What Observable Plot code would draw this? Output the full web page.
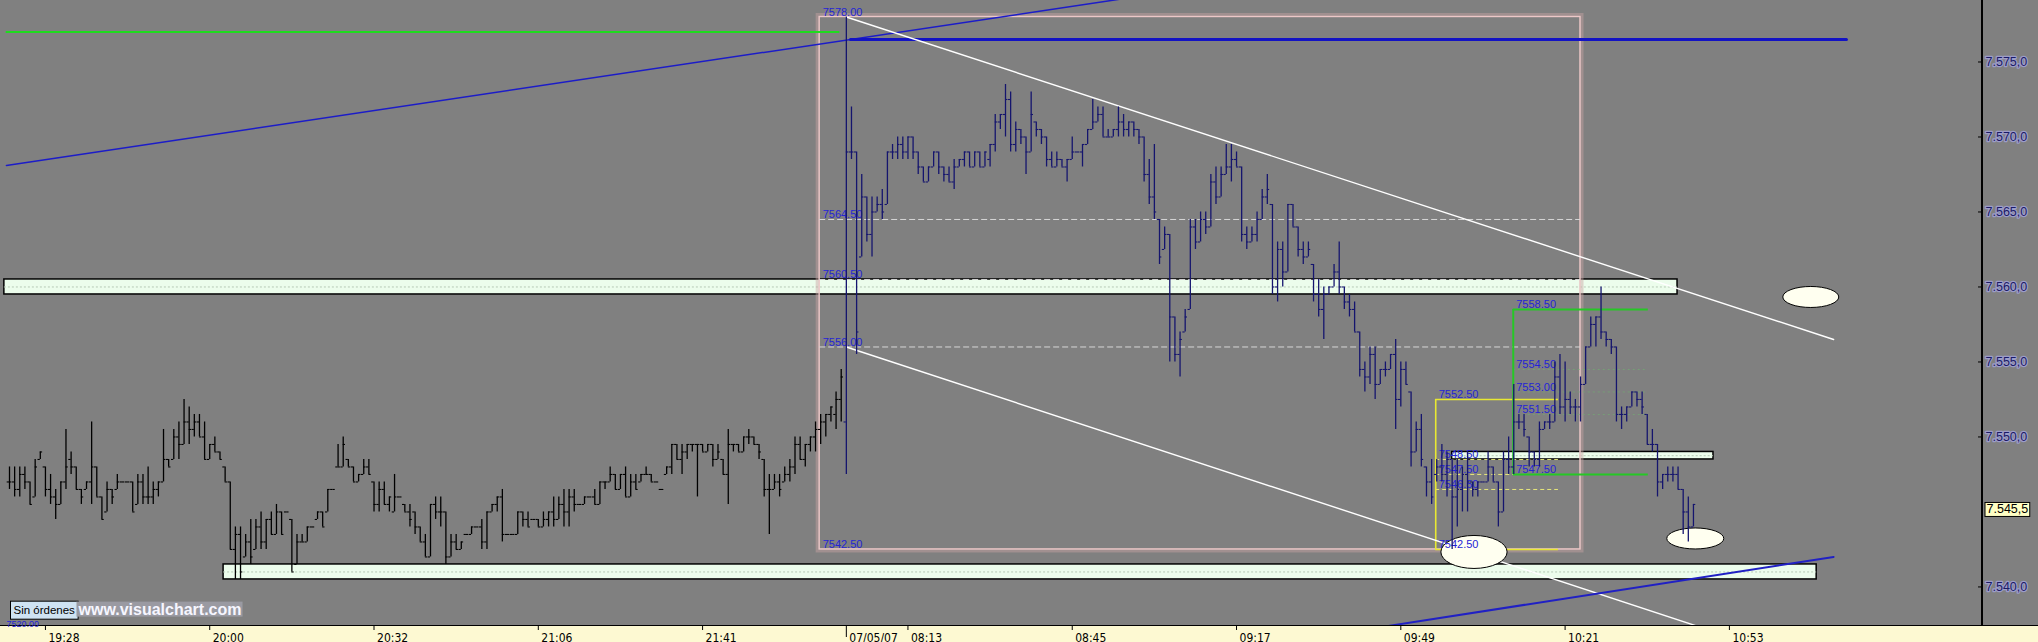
<!DOCTYPE html>
<html>
<head>
<meta charset="utf-8">
<script src="https://cdn.jsdelivr.net/npm/d3@7"></script>
<script src="https://cdn.jsdelivr.net/npm/@observablehq/plot@0.6"></script>
<style>
  html, body { margin: 0; padding: 0; background: #808080; }
  #chart svg { display: block; }
</style>
</head>
<body>
<div id="chart"></div>
<script>
// ---------- DATA (1-minute OHLC bars, bar index 0 = first evening bar) ----------
const highs = [
  7548,7548,7548,7548,7547,7548.5,7549,7548,7547.5,7546.5,
  7547,7550.5,7549,7548,7546.5,7547,7551,7548,7546,7547,
  7546.5,7547.5,7547,7547,7547,7547.5,7547.5,7548,7547,7547,
  7550.5,7548.5,7550.5,7551,7552.5,7552,7551.5,7551.5,7551,7549.5,
  7550,7549,7548,7547,7544,7544,7543.5,7544.5,7544.5,7545,
  7544.5,7545,7545.5,7545,7545,7544.5,7543.5,7543.5,7544,7544,
  7545,7545,7546.5,7546.5,7549.5,7550,7548.5,7548,7547.5,7548.5,
  7548.5,7547,7547,7547,7546,7547.5,7546,7545.5,7545.5,7545,
  7544,7543.5,7545.5,7546,7546,7545,7543.5,7543.5,7543,7543.5,
  7544,7544,7544.5,7545,7545.5,7546,7546.5,7543.5,7543.5,7545,
  7545,7545,7544.5,7544.5,7545,7545,7546,7546,7546.5,7546.5,
  7546.5,7545.5,7546,7546,7546.5,7547,7547,7548,7547.5,7547.5,
  7548,7547.5,7547.5,7547.5,7548,7547.5,7547,7546.5,7548,7549.5,
  7549.5,7549.5,7549.5,7549.5,7549.5,7549.5,7549.5,7549.5,7549.5,7548.5,
  7550.5,7549.5,7549.5,7550,7550.5,7550,7549.5,7548.5,7547.5,7547.5,
  7547.5,7548,7548.5,7550,7550,7549.5,7550,7551,7551.5,7551.5,
  7552,7553,7554.5,
  7578,7572,7569,7567.5,7566,7566,7566,
  7566.5,7569,7569.5,7570,7570,7570,7570,7569,7568,7568,
  7569,7569,7568,7568,7568.5,7568.5,7569,7569,7569,7569,
  7569,7569.5,7571.5,7571.5,7573.5,7573,7571,7570.5,7570,7573,
  7571,7570.5,7570,7569,7569,7568.5,7568.5,7570,7569,7569.5,
  7570.5,7572.5,7572,7572,7570.5,7570.5,7572,7571.5,7571,7571,
  7570.5,7570,7568.5,7569.5,7564.5,7564,7563.5,7558,7557,7558.5,
  7564.5,7564.5,7565,7565,7567.5,7568,7568,7569.5,7569.5,7569,
  7568,7564,7564,7565,7566.5,7567.5,7565.5,7563,7563,7565.5,
  7565.5,7564,7563,7563,7561.5,7560.5,7560,7560,7561.5,7563,
  7560,7559.5,7559,7557,7555,7556,7556,7554.5,7555,7555.5,
  7556.5,7555,7555,7553,7551,7551.5,7548,7548.5,7548.5,7549.5,
  7549,7548.5,7548.5,7548,7549,7547,7547,7547,7549,7548,
  7547,7549,7550,7553.5,7551.5,7551.5,7550,7549,7551,7551,
  7551.5,7555,7555.5,7555,7553,7552.5,7554,7556,7558,7558,
  7560,7557,7556.5,7556,7552,7552,7553,7553,7553,7551.5,
  7550.5,7549.5,7547.5,7548,7548,7548,7546.5,7546,7545.5
];
const lows = [
  7546.5,7546,7546,7546.5,7545.5,7546,7548.5,7546,7545.5,7544.5,
  7545.5,7546.5,7547.5,7546.5,7545.5,7546.5,7545.5,7546,7544.5,7545,
  7545.5,7546.5,7547,7547,7545,7545.5,7545.5,7545.5,7545.5,7546,
  7547,7548,7548.5,7548.5,7549.5,7549.5,7550,7550,7548.5,7548.5,
  7549,7548.5,7547,7542.5,7540.5,7540.5,7542,7541.5,7542.5,7542.5,
  7542.5,7543.5,7543.5,7543.5,7545,7541,7541.5,7543,7543,7544,
  7544.5,7544,7545,7546.5,7548,7548,7548,7547,7547,7547.5,
  7547.5,7545,7545,7545.5,7545,7545,7546,7545,7544,7543.5,
  7543,7542,7542,7544.5,7544,7541.5,7542,7542.5,7542.5,7543.5,
  7543.5,7544,7542.5,7542.5,7545,7545,7543,7543.5,7543.5,7543.5,
  7544,7544,7544.5,7544,7544,7544,7544,7544.5,7544,7544,
  7545,7545.5,7545.5,7546,7545.5,7545.5,7546.5,7547,7546.5,7546.5,
  7546,7546,7546.5,7547,7547.5,7547,7547,7546.5,7547.5,7547.5,
  7548.5,7547.5,7548.5,7549,7546,7549,7549,7548,7548.5,7547.5,
  7545.5,7549,7549,7549,7549.5,7549.5,7548.5,7546,7543.5,7546.5,
  7546,7547,7547,7547.5,7548.5,7548,7549,7549,7549.5,7550,
  7551,7550.5,7551,
  7547.5,7568.5,7555.5,7562,7563,7562,7565,
  7564.5,7565.5,7568.5,7568.5,7568.5,7568.5,7568.5,7567.5,7567,7567,
  7568,7567.5,7567,7567,7566.5,7568,7568,7568,7568,7568,
  7568,7568,7569,7570.5,7570,7569,7569,7569.5,7567.5,7569,
  7570,7569.5,7568,7568,7568,7568,7567,7568.5,7569,7568,
  7569.5,7570.5,7571,7570,7570,7570,7570,7570,7570,7570,
  7569.5,7567,7565.5,7564.5,7561.5,7562.5,7555,7555,7554,7557,
  7558.5,7562.5,7563,7563.5,7564,7565.5,7566,7567.5,7567,7568,
  7563,7562.5,7563,7563,7564.5,7565.5,7559.5,7559,7560,7561,
  7564,7562,7561.5,7562,7559,7558,7556.5,7559.5,7560,7559.5,
  7558.5,7558,7557,7554,7553,7553.5,7552.5,7553.5,7554,7554.5,
  7550.5,7552,7553.5,7548,7549,7548,7546,7545.5,7547,7547,
  7546,7542.5,7544,7545,7545,7546,7546,7547,7547,7547,
  7544,7545,7547.5,7547.5,7550.5,7550,7548,7548,7548,7550.5,
  7550.5,7551,7551.5,7551,7551.5,7551,7551,7553.5,7556,7556,
  7556.5,7556,7555.5,7551,7550.5,7551,7552,7552,7551.5,7549.5,
  7549,7546,7546.5,7547,7547,7546.5,7543.5,7543,7544
];
const opens = [
  7547,7547,7546.5,7547.5,7547,7546,7548.5,7548,7546.5,7546,
  7545.5,7547,7548.5,7548,7546.5,7546.5,7547,7548,7546,7545,
  7546.5,7546.5,7547,7547,7547,7545.5,7547,7546,7546,7546.5,
  7547,7548.5,7548.5,7550,7549.5,7551,7550.5,7551,7550,7548.5,
  7549.5,7549,7548,7547,7542.5,7543.5,7542,7543,7542.5,7544,
  7543,7544.5,7543.5,7545,7545,7544.5,7541.5,7543,7543,7544,
  7544.5,7545,7545,7546.5,7548,7548,7548.5,7548,7547,7547.5,
  7548,7547,7545.5,7546.5,7545.5,7545,7546,7545.5,7545,7545,
  7544,7543,7542,7545.5,7545,7545,7542,7543,7542.5,7543.5,
  7543.5,7544,7544,7543,7545,7545.5,7546,7543.5,7543.5,7543.5,
  7545,7544.5,7544.5,7544.5,7544,7544.5,7545,7544.5,7545.5,7545,
  7546,7545.5,7545.5,7546,7546,7545.5,7547,7547,7547.5,7546.5,
  7547.5,7546,7547,7547,7547.5,7547.5,7547,7546.5,7547.5,7548,
  7549.5,7548.5,7549,7549.5,7549.5,7549.5,7549,7549.5,7548.5,7548.5,
  7547.5,7549.5,7549.5,7549,7550,7550,7549.5,7548.5,7546.5,7546.5,
  7547,7547,7547.5,7548,7549.5,7548.5,7549.5,7550,7550.5,7551,
  7551.5,7551.5,7552.5,
  7551,7569,7569,7562,7566,7563.5,7565,
  7565.5,7565.5,7569,7569,7569.5,7569,7570,7569,7568,7567,
  7568,7569,7568,7567.5,7567,7568,7568.5,7569,7568,7569,
  7568,7568.5,7569.5,7571,7571.5,7572.5,7569.5,7570.5,7570,7569,
  7571,7570.5,7570,7568.5,7568,7568.5,7568,7568.5,7569,7569,
  7569.5,7570.5,7571,7571.5,7570,7570,7570.5,7571,7570.5,7571,
  7570.5,7570,7567.5,7566,7564.5,7562.5,7563.5,7558,7555.5,7557,
  7558.5,7564,7563,7564.5,7564,7567,7566,7567.5,7568,7568.5,
  7568,7563.5,7563,7563.5,7564.5,7566,7565.5,7560,7562.5,7561,
  7565.5,7564,7562.5,7562,7561.5,7559.5,7558.5,7559.5,7560,7561,
  7560,7559,7558.5,7557,7554.5,7554,7555.5,7553.5,7554.5,7554.5,
  7555.5,7552.5,7554.5,7553,7549,7550.5,7548,7547,7547.5,7548,
  7547.5,7548.5,7546,7546.5,7547.5,7547,7546.5,7547,7547,7548,
  7547,7545,7548.5,7548,7551,7551,7550,7549,7548.5,7550.5,
  7551,7551,7554,7552,7552.5,7552,7552,7553.5,7556,7557.5,
  7558,7557,7556.5,7556,7551.5,7551.5,7552,7553,7552.5,7551.5,
  7549.5,7549.5,7547,7547.5,7547.5,7547.5,7546.5,7545,7544
];
const closes = [
  7547,7546.5,7547.5,7547,7545.5,7548,7549,7546.5,7546,7545.5,
  7547,7548,7548,7546.5,7546,7547,7548,7546,7544.5,7546.5,
  7546,7547,7547,7547,7545,7547,7546,7546,7546.5,7547,
  7548.5,7548,7550,7549.5,7551,7550.5,7551,7550,7548.5,7549.5,
  7549,7548.5,7547,7542.5,7543.5,7541,7543,7542,7544,7543,
  7544.5,7543.5,7545,7543.5,7545,7541,7543,7543,7544,7544,
  7545,7544,7546.5,7546.5,7548,7549.5,7548,7547,7547.5,7548,
  7547.5,7545.5,7546.5,7545.5,7546,7546,7546,7545,7544.5,7544,
  7543,7542,7545.5,7545,7545,7542,7543,7542.5,7543,7543.5,
  7544,7544,7543,7545,7545.5,7546,7543.5,7543.5,7543.5,7545,
  7544.5,7544,7544.5,7544,7544.5,7545,7544.5,7545.5,7545,7546,
  7545.5,7545.5,7546,7546,7545.5,7547,7547,7547.5,7546.5,7547.5,
  7546,7547,7546.5,7547.5,7547.5,7547,7547,7546.5,7548,7549.5,
  7548.5,7549,7549.5,7549.5,7549.5,7549,7549.5,7548.5,7549,7547.5,
  7549.5,7549.5,7549,7550,7550,7549.5,7549,7546.5,7546.5,7547,
  7546.5,7547.5,7548,7549.5,7548.5,7549.5,7550,7550.5,7551,7551.5,
  7552,7552.5,7554,
  7569,7569,7557,7566,7563.5,7565,7565.5,
  7565,7569,7569,7569.5,7569,7570,7569,7568,7567,7568,
  7569,7568,7567.5,7567,7568,7568.5,7569,7568,7569,7568,
  7569,7569.5,7571,7571.5,7572.5,7569.5,7570.5,7570,7569,7571.5,
  7570.5,7570,7568.5,7568,7568.5,7568,7568.5,7569,7569,7569.5,
  7570.5,7571,7571.5,7570,7570,7570.5,7571,7570.5,7571,7570.5,
  7570,7567.5,7566,7565,7562,7563.5,7558,7555.5,7556.5,7558,
  7564,7563,7564.5,7564,7567,7566,7567.5,7568,7568.5,7568,
  7563.5,7563,7563.5,7564.5,7566,7566.5,7560,7562.5,7561,7565.5,
  7564,7562.5,7562,7562.5,7559.5,7558.5,7559.5,7560,7561,7560,
  7559,7558.5,7557,7554.5,7554,7555.5,7553.5,7554.5,7554.5,7555.5,
  7552.5,7554.5,7553.5,7549,7550.5,7548.5,7547,7546,7548,7547.5,
  7548.5,7546,7546.5,7547.5,7547,7546.5,7547,7547,7548,7547,
  7545,7548.5,7548,7551,7551,7550.5,7549,7548.5,7550.5,7551,
  7551,7554,7552,7552.5,7552,7552,7553.5,7556,7557.5,7558,
  7557,7556.5,7556,7551.5,7551.5,7552,7553,7552.5,7552,7549.5,
  7549.5,7547,7547.5,7547.5,7547.5,7546.5,7545,7544,7545.5
];
const morningStart = 163;                       // first bar of 07/05/07 session
const timeTickBars = [7, 39, 71, 103, 135, 163, 175, 207, 239, 271, 303, 335];
const timeTickLabels = ["19:28", "20:00", "20:32", "21:06", "21:41", "07/05/07", "08:13", "08:45", "09:17", "09:49", "10:21", "10:53"];
const priceTicks = [7575, 7570, 7565, 7560, 7555, 7550, 7540];
const lastPrice = 7545.5;

// drawing-tool annotations (bar index, price)
const fibSpan = [157.8, 306];
const fibLevels = [7578, 7564.5, 7560.5, 7556, 7542.5];
const yellowSpan = [277.8, 301.7];
const yellowLevels = [7552.5, 7548.5, 7547.5, 7546.5, 7542.5];
const greenSpan = [292.9, 319.2];
const greenLevels = [7558.5, 7554.5, 7553, 7551.5, 7547.5];
const zoneX1 = [-1, 41.7, 281];
const zoneX2 = [324.9, 352, 331.9];
const zoneTop = [7560.5, 7541.5, 7549];
const zoneBottom = [7559.5, 7540.5, 7548.5];
const ovalX1 = [345.5, 278.9, 322.9];
const ovalX2 = [356.4, 291.8, 334];
const ovalTop = [7560, 7543.4, 7543.9];
const ovalBottom = [7558.6, 7541.2, 7542.5];
const greenLine = [[-0.6, 7577.0], [161.5, 7577.0]];
const blueRising = [[-0.6, 7568.1], [218.5, 7579.3]];
const blueLevel = [[163.8, 7576.5], [357.8, 7576.5]];
const channelTop = [[163, 7578], [355.3, 7556.5]];
const channelBottom = [[163, 7556], [328.6, 7537.4]];
const blueSupport = [[268.6, 7537.4], [355.3, 7542.0]];

// ---------- BUILD ----------
const bars = highs.map((h, i) => ({i, high: h, low: lows[i], open: opens[i], close: closes[i]}));
const evening = bars.filter(d => d.i < morningStart);
const morning = bars.filter(d => d.i >= morningStart);
const zones = zoneX1.map((x1, k) => ({x1, x2: zoneX2[k], top: zoneTop[k], bottom: zoneBottom[k]}));
const ovals = ovalX1.map((x1, k) => ({x1, x2: ovalX2[k], top: ovalTop[k], bottom: ovalBottom[k]}));
const timeTicks = timeTickBars.map((i, k) => ({i, label: timeTickLabels[k]}));

const es = d3.formatLocale({decimal: ",", thousands: ".", grouping: [3], currency: ["", ""]});
const fmtAxis = es.format(",.1f");

const labelBlue = "#2424d6";
const navy = "#15156e";
const XY = {x: d => d[0], y: d => d[1]};

function ohlc(data, color) {
  return [
    Plot.ruleX(data, {x: "i", y1: "low", y2: "high", stroke: color, strokeWidth: 1.3}),
    Plot.ruleY(data, {y: "open", x1: d => d.i - 0.45, x2: "i", stroke: color, strokeWidth: 1.1}),
    Plot.ruleY(data, {y: "close", x1: "i", x2: d => d.i + 0.45, stroke: color, strokeWidth: 1.1})
  ];
}

const chart = Plot.plot({
  width: 2038,
  height: 642,
  marginTop: 0,
  marginBottom: 17,
  marginLeft: 0,
  marginRight: 56,
  style: "background-color:#808080; background-image: linear-gradient(to right, transparent 1981px, #000 1981px, #000 1983px, transparent 1983px), linear-gradient(to bottom, transparent 625px, #000 625px, #000 626px, #fdf9d2 626px); background-repeat:no-repeat; background-size:100% 626px, 100% 100%; font-family:'Liberation Sans', Arial, sans-serif; overflow:visible;",
  x: {domain: [-1.753, 384.3], axis: null},
  y: {domain: [7537.43, 7579.1], axis: null},
  marks: [
    // zones
    Plot.rect(zones, {x1: "x1", x2: "x2", y1: "bottom", y2: "top", fill: "#ecfdec", stroke: "#000", strokeWidth: 1.5}),
    Plot.ruleY(zones, {y: d => (d.top + d.bottom) / 2, x1: "x1", x2: "x2", stroke: "#b5c9b5", strokeDasharray: "2,2"}),
    // fibonacci box
    Plot.rect([fibLevels], {x1: fibSpan[0], x2: fibSpan[1], y1: d => d[d.length - 1], y2: d => d[0], fill: "none", stroke: "#c9a3a3", strokeOpacity: 0.45, strokeWidth: 4, inset: -1.5}),
    Plot.rect([fibLevels], {x1: fibSpan[0], x2: fibSpan[1], y1: d => d[d.length - 1], y2: d => d[0], fill: "none", stroke: "#ecc8c8", strokeWidth: 1.4}),
    Plot.ruleY(fibLevels.slice(1, -1), {y: d => d, x1: fibSpan[0], x2: fibSpan[1], stroke: "#d6d6d6", strokeDasharray: "6,3"}),
    // yellow box
    Plot.ruleY(yellowLevels.slice(1, -1), {y: d => d, x1: yellowSpan[0], x2: yellowSpan[1], stroke: "#e7e77a", strokeDasharray: "4,3"}),
    Plot.ruleY([yellowLevels[0], yellowLevels[4]], {y: d => d, x1: yellowSpan[0], x2: yellowSpan[1], stroke: "#e8e832", strokeWidth: 1.6}),
    Plot.ruleX([yellowSpan[0]], {x: d => d, y1: yellowLevels[4], y2: yellowLevels[0], stroke: "#e8e832", strokeWidth: 1.6}),
    // green box
    Plot.ruleY(greenLevels.slice(1, -1), {y: d => d, x1: greenSpan[0], x2: greenSpan[1], stroke: "#6fb06f", strokeOpacity: 0.6, strokeDasharray: "2,3"}),
    Plot.ruleY([greenLevels[0], greenLevels[4]], {y: d => d, x1: greenSpan[0], x2: greenSpan[1], stroke: "#25c825", strokeWidth: 2}),
    Plot.ruleX([greenSpan[0]], {x: d => d, y1: greenLevels[4], y2: greenLevels[0], stroke: "#25c825", strokeWidth: 2}),
    // trend lines
    Plot.line(greenLine, {...XY, stroke: "#1edc1e", strokeWidth: 2}),
    Plot.line(blueRising, {...XY, stroke: "#1c1cc8", strokeWidth: 1.5, clip: true}),
    Plot.line(blueLevel, {...XY, stroke: "#1212c4", strokeWidth: 3}),
    Plot.line(channelTop, {...XY, stroke: "#ffffff", strokeWidth: 1.4}),
    Plot.line(channelBottom, {...XY, stroke: "#ffffff", strokeWidth: 1.4, clip: true}),
    Plot.line(blueSupport, {...XY, stroke: "#2020c4", strokeWidth: 2, clip: true}),
    // ovals
    Plot.rect(ovals, {x1: "x1", x2: "x2", y1: "bottom", y2: "top", rx: 200, ry: 200, fill: "#fffff0", stroke: "#000", strokeWidth: 1}),
    // level labels
    Plot.text(fibLevels, {x: fibSpan[0], y: d => d, text: d => d.toFixed(2), dx: 3, dy: -1, textAnchor: "start", lineAnchor: "bottom", fill: labelBlue, fontSize: 11}),
    Plot.text(yellowLevels, {x: yellowSpan[0], y: d => d, text: d => d.toFixed(2), dx: 3, dy: -1, textAnchor: "start", lineAnchor: "bottom", fill: labelBlue, fontSize: 11}),
    Plot.text(greenLevels, {x: greenSpan[0], y: d => d, text: d => d.toFixed(2), dx: 3, dy: -1, textAnchor: "start", lineAnchor: "bottom", fill: labelBlue, fontSize: 11}),
    // bars
    ...ohlc(evening, "#000000"),
    ...ohlc(morning, navy),
    // price axis
    Plot.axisY(priceTicks, {anchor: "right", tickSize: -5, tickFormat: () => "", stroke: "#000"}),
    Plot.text(priceTicks, {y: d => d, frameAnchor: "right", dx: 3, textAnchor: "start", text: d => fmtAxis(d), fill: "#1a1a66", stroke: "#9c9cc8", strokeWidth: 2.5, paintOrder: "stroke", fontSize: 12.5}),
    Plot.text([lastPrice], {y: d => d, frameAnchor: "right", dx: 4, dy: 5, textAnchor: "start", text: d => fmtAxis(d), fill: "#000", fontSize: 12.5}),
    // time axis
    Plot.axisX(timeTickBars.filter(i => i !== morningStart), {anchor: "bottom", tickSize: 5, tickFormat: () => "", stroke: "#000"}),
    Plot.axisX([morningStart], {anchor: "bottom", tickSize: 12, tickFormat: () => "", stroke: "#000"}),
    Plot.text(timeTicks, {x: "i", text: "label", frameAnchor: "bottom", dx: 3, dy: 16, textAnchor: "start", lineAnchor: "bottom", fill: "#000", fontSize: 12, fontFamily: "'Liberation Sans Narrow', 'DejaVu Sans Condensed', sans-serif"}),
    // overlays
    Plot.text(["7520.00"], {frameAnchor: "bottom-left", dx: 6, dy: 1, textAnchor: "start", lineAnchor: "bottom", fill: "#2424d6", fontSize: 9}),
    Plot.text(["Sin órdenes"], {frameAnchor: "bottom-left", dx: 13, dy: -15, textAnchor: "start", lineAnchor: "middle", fill: "#000", fontSize: 11.5}),
    Plot.text(["www.visualchart.com"], {frameAnchor: "bottom-left", dx: 78, dy: -16, textAnchor: "start", lineAnchor: "middle", fill: "#f6f6ff", fontSize: 16, fontWeight: "bold"})
  ]
});

document.getElementById("chart").append(chart);

// boxes behind some labels (found by their text), sharing the label's transform
function boxBehind(content, fill, stroke, padX, padY) {
  d3.select(chart).selectAll("text").filter(function () { return this.textContent === content; }).each(function () {
    const b = this.getBBox();
    const r = document.createElementNS("http://www.w3.org/2000/svg", "rect");
    this.parentNode.insertBefore(r, this);
    const t = this.getAttribute("transform");
    if (t) r.setAttribute("transform", t);
    d3.select(r)
      .attr("x", b.x - padX).attr("y", b.y - padY)
      .attr("width", b.width + 2 * padX).attr("height", b.height + 2 * padY)
      .attr("fill", fill).attr("stroke", stroke);
  });
}
boxBehind(fmtAxis(lastPrice), "#ffffc4", "#000", 1.5, 0);
boxBehind("Sin órdenes", "#cfe3f3", "#000", 3, 3);
boxBehind("www.visualchart.com", "#9a9aa2", "none", 1, -1);
</script>
</body>
</html>
